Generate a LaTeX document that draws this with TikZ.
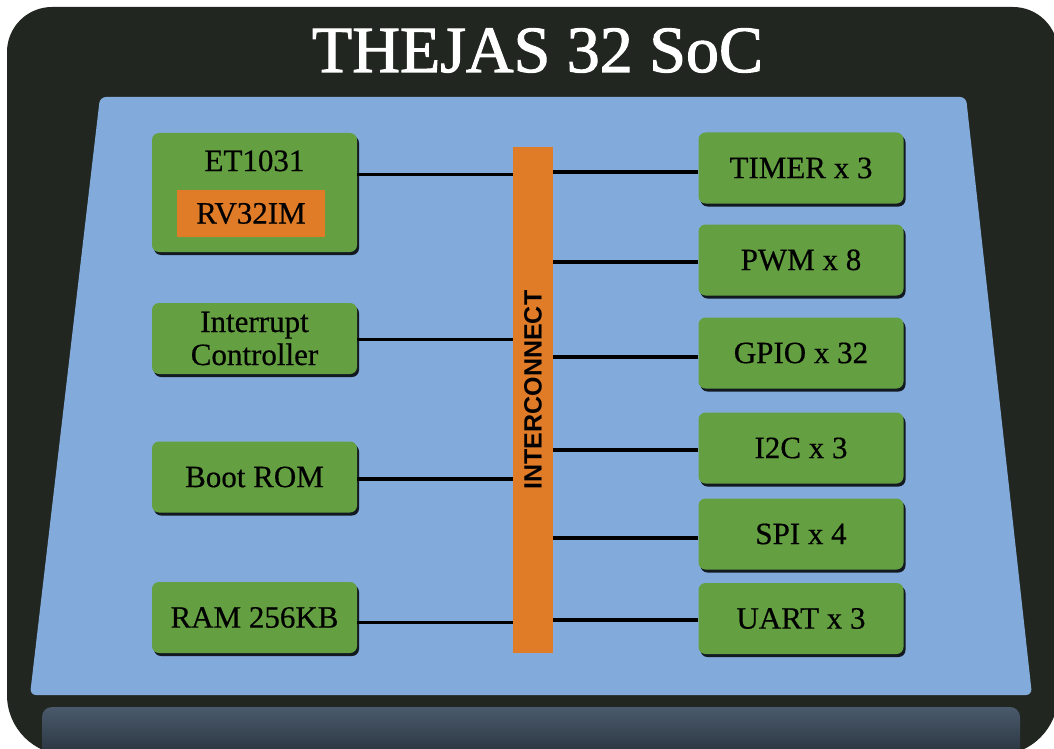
\documentclass[tikz,border=0pt]{standalone}
\usepackage{fontspec}
\setmainfont{Liberation Serif}[FakeBold=0.5]
\newfontfamily\titlefont{Liberation Serif}[FakeBold=1.6]
\newfontfamily\busfont{Liberation Sans}
\usepackage{tikz}
\usetikzlibrary{shadows}
\definecolor{chipdark}{RGB}{34,38,33}
\definecolor{dieblue}{RGB}{130,171,219}
\definecolor{blkgreen}{RGB}{100,160,66}
\definecolor{busorange}{RGB}{224,123,40}
\definecolor{striptop}{RGB}{74,90,108}
\definecolor{stripbot}{RGB}{28,36,44}
\tikzset{
	blk/.style={fill=blkgreen,rounded corners=7pt,minimum width=205pt,minimum height=71pt,inner sep=0pt,align=center,
		font=\fontsize{31}{33}\selectfont,drop shadow={shadow xshift=2pt,shadow yshift=-3pt,fill=black,opacity=0.85}},
	core/.style={fill=busorange,minimum width=148pt,minimum height=47pt,inner sep=0pt,font=\fontsize{31}{33}\selectfont},
	link/.style={line width=3.5pt,black},
}
\begin{document}
\begin{tikzpicture}[x=1pt,y=-1pt]
			\useasboundingbox (0,0) rectangle (1054,749);
			\fill[white] (0,0) rectangle (1054,749);
			\fill[chipdark,rounded corners=45pt] (7,400) -- (7,7) -- (1058,7) -- (1058,400) [rounded corners=60pt] -- (1058,755) -- (7,755) -- cycle;
			\fill[dieblue,rounded corners=6pt] (100,97) -- (966,97) -- (1032,695) -- (30,695) -- cycle;
			\shade[top color=striptop,bottom color=stripbot,rounded corners=10pt] (42,707) rectangle (1020,775);
			\node[anchor=base,text=white,font=\titlefont\fontsize{66}{72}\selectfont] (title) at (537.5,72) {THEJAS 32 SoC};
			\node[fill=busorange,minimum width=40pt,minimum height=506pt,inner sep=0pt] (bus) at (533,400) {};
			\node[rotate=90,font=\busfont\bfseries\fontsize{25}{27}\selectfont] (buslbl) at (533,390) {INTERCONNECT};
			\node[blk,minimum height=119pt] (et) at (254.5,192.5) {};
			\node[anchor=base,font=\fontsize{31}{33}\selectfont] (etname) at (254.5,171) {ET1031};
			\node[core] (rv) at (251,213.5) {RV32IM};
			\node[blk] (irq) at (254.5,338.5) {Interrupt\\Controller};
			\node[blk] (rom) at (254.5,477) {Boot ROM};
			\node[blk] (ram) at (254.5,617.5) {RAM 256KB};
			\node[blk] (tmr) at (801,168) {TIMER x 3};
			\node[blk] (pwm) at (801,260) {PWM x 8};
			\node[blk] (gpio) at (801,353) {GPIO x 32};
			\node[blk] (iic) at (801,448) {I2C x 3};
			\node[blk] (spi) at (801,534) {SPI x 4};
			\node[blk] (uart) at (801,618.5) {UART x 3};
			\draw[link] ([yshift=18pt]et.east) -- ([yshift=18pt]et.east -| bus.west);
			\draw[link] ([yshift=-1pt]irq.east) -- ([yshift=-1pt]irq.east -| bus.west);
			\draw[link] ([yshift=-2pt]rom.east) -- ([yshift=-2pt]rom.east -| bus.west);
			\draw[link] ([yshift=-5pt]ram.east) -- ([yshift=-5pt]ram.east -| bus.west);
			\draw[link] ([yshift=-4pt]tmr.west) -- ([yshift=-4pt]tmr.west -| bus.east);
			\draw[link] ([yshift=-2pt]pwm.west) -- ([yshift=-2pt]pwm.west -| bus.east);
			\draw[link] ([yshift=-4pt]gpio.west) -- ([yshift=-4pt]gpio.west -| bus.east);
			\draw[link] ([yshift=-2pt]iic.west) -- ([yshift=-2pt]iic.west -| bus.east);
			\draw[link] ([yshift=-4pt]spi.west) -- ([yshift=-4pt]spi.west -| bus.east);
			\draw[link] ([yshift=-1.5pt]uart.west) -- ([yshift=-1.5pt]uart.west -| bus.east);
		\end{tikzpicture}
\end{document}
